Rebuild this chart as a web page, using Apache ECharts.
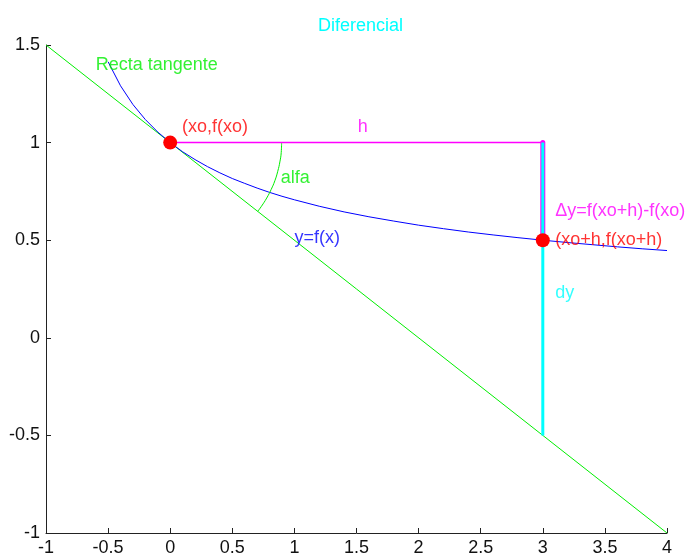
<!DOCTYPE html>
<html>
<head>
<meta charset="utf-8">
<script src="https://cdn.jsdelivr.net/npm/echarts@6/dist/echarts.min.js"></script>
<style>html,body{margin:0;padding:0;background:#fff}#c{width:688px;height:557px}</style>
</head>
<body>
<div id="c"></div>
<script>
// Values
const xTicks = [-1, -0.5, 0, 0.5, 1, 1.5, 2, 2.5, 3, 3.5, 4];
const yTicks = [-1, -0.5, 0, 0.5, 1, 1.5];
const tangentLine = [[-1, 1.5], [4, -1]];
const curveX = [-0.5,-0.4,-0.3,-0.2,-0.1,0,0.1,0.2,0.3,0.4,0.5,0.6,0.7,0.8,0.9,1.0,1.2,1.4,1.6,1.8,2.0,2.2,2.4,2.6,2.8,3.0,3.2,3.4,3.6,3.8,4.0];
const curveY = [1.414,1.291,1.195,1.118,1.054,1.000,0.953,0.913,0.877,0.845,0.816,0.791,0.767,0.745,0.725,0.707,0.674,0.645,0.620,0.598,0.577,0.559,0.542,0.527,0.513,0.500,0.488,0.477,0.466,0.456,0.447];
const hLine = [[0, 1], [3, 1]];
const deltaYLine = [[3, 1], [3, 0.5]];
const dyLine = [[3, 1], [3, -0.5]];
const alfaArc = [[0.897,1.0],[0.894,0.950],[0.883,0.901],[0.866,0.853],[0.843,0.805],[0.813,0.760],[0.777,0.716],[0.735,0.674],[0.705,0.648]];
const redPoints = [[0, 1], [3, 0.5]];
const labelNames = ['Recta tangente', '(xo,f(xo)', 'h', 'alfa', 'y=f(x)', '\u0394y=f(xo+h)-f(xo)', '(xo+h,f(xo+h)', 'dy'];
const labelX = [-0.6, 0.095, 1.51, 0.89, 1.0, 3.1, 3.1, 3.1];
const labelY = [1.398, 1.08, 1.08, 0.82, 0.51, 0.65, 0.5, 0.23];
const labelColors = ['#00ee00', '#ff0000', '#ff00ff', '#00ee00', '#0000ff', '#ff00ff', '#ff0000', '#00ffff'];

const FONT = 'Liberation Sans, Arial, Helvetica, sans-serif';
const curve = curveX.map((x, i) => [x, curveY[i]]);
const labelData = labelNames.map((n, i) => ({
  name: n, value: [labelX[i], labelY[i]],
  label: { color: labelColors[i] }
}));

const chart = echarts.init(document.getElementById('c'), null, { renderer: 'canvas' });
chart.setOption({
  animation: false,
  backgroundColor: '#fff',
  title: {
    text: 'Diferencial', left: 313, top: 12,
    textStyle: { color: '#00ffff', fontSize: 18, fontWeight: 'normal', fontFamily: FONT }
  },
  grid: { left: 46, right: 21, top: 45, bottom: 23.5, containLabel: false },
  xAxis: {
    type: 'value', min: xTicks[0], max: xTicks[xTicks.length - 1], interval: 0.5,
    axisLine: { show: true, onZero: false, lineStyle: { color: '#222', width: 1 } },
    axisTick: { show: true, inside: true, length: 5, lineStyle: { color: '#222' } },
    axisLabel: { color: '#111', fontSize: 18, fontFamily: FONT, margin: 6 },
    splitLine: { show: false }
  },
  yAxis: {
    type: 'value', min: yTicks[0], max: yTicks[yTicks.length - 1], interval: 0.5,
    axisLine: { show: true, onZero: false, lineStyle: { color: '#222', width: 1 } },
    axisTick: { show: true, inside: true, length: 5, lineStyle: { color: '#222' } },
    axisLabel: { color: '#111', fontSize: 18, fontFamily: FONT, margin: 6 },
    splitLine: { show: false }
  },
  series: [
    { type: 'line', data: tangentLine, symbol: 'none', lineStyle: { color: '#00ee00', width: 1 }, z: 2 },
    { type: 'line', data: curve, symbol: 'none', lineStyle: { color: '#0000ff', width: 1 }, z: 3 },
    { type: 'line', data: alfaArc, symbol: 'none', smooth: true, lineStyle: { color: '#00ee00', width: 1 }, z: 3 },
    { type: 'line', data: hLine, symbol: 'none', lineStyle: { color: '#ff00ff', width: 1.5 }, z: 4 },
    { type: 'line', data: deltaYLine, symbol: 'none', lineStyle: { color: '#ff00ff', width: 5, cap: 'round' }, z: 5 },
    { type: 'line', data: dyLine, symbol: 'none', lineStyle: { color: '#00ffff', width: 3 }, z: 6 },
    { type: 'scatter', data: redPoints, symbol: 'circle', symbolSize: 14, itemStyle: { color: '#ff0000', opacity: 1 }, z: 8 },
    { type: 'scatter', data: labelData, symbolSize: 0, z: 9,
      label: { show: true, position: 'right', distance: 0, formatter: p => p.name, fontSize: 18, fontFamily: FONT } }
  ]
});
</script>
</body>
</html>
